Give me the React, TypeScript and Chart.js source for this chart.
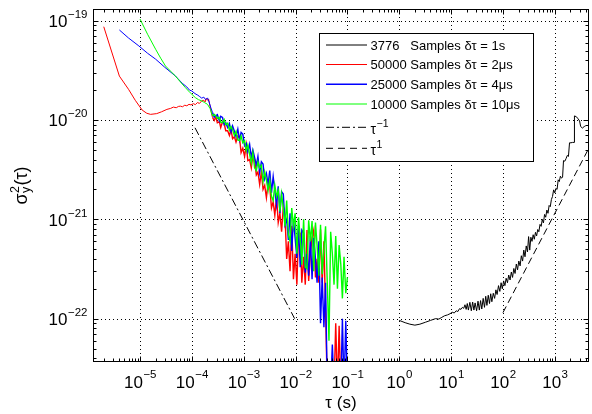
import React, { useEffect, useRef } from "react";
import { Chart, registerables } from "chart.js";

Chart.register(...registerables);

// ---------- axis ranges & ticks ----------
const X_MIN = 1.24e-6;
const X_MAX = 4560;
const Y_MIN = 3.66e-23;
const Y_MAX = 1.312e-19;

const xTickExponents = [-5, -4, -3, -2, -1, 0, 1, 2, 3];
const yTickExponents = [-19, -20, -21, -22];

const xAxisTitle = "τ (s)";
const seriesLabels = [
  "3776   Samples δτ = 1s",
  "50000 Samples δτ = 2μs",
  "25000 Samples δτ = 4μs",
  "10000 Samples δτ = 10μs",
];
const seriesColors = ["#000000", "#ff0000", "#0000ff", "#00ff00"];

// ---------- data ----------
const blackSeries: [number, number][] = [
  [1.0, 9.6e-23], [1.3, 9.1e-23], [1.6, 8.8e-23], [2.0, 8.6e-23], [2.5, 8.8e-23], [3.2, 9.2e-23],
  [4.0, 9.6e-23], [5.0, 1.0e-22], [5.8, 9.9e-23], [6.6, 1.03e-22], [7.5, 1.07e-22], [8.5, 1.09e-22],
  [9.5, 1.12e-22], [10.5, 1.16e-22], [11.5, 1.14e-22], [12.5, 1.2e-22], [13.5, 1.18e-22], [14.5, 1.26e-22],
  [15.5, 1.24e-22], [16.5, 1.3e-22], [17.5, 1.27e-22], [18.5, 1.38e-22], [19.5, 1.24e-22], [20.5, 1.42e-22],
  [21.5, 1.22e-22], [23, 1.46e-22], [24.5, 1.2e-22], [26, 1.47e-22], [27.5, 1.22e-22], [29, 1.44e-22],
  [31, 1.2e-22], [33, 1.5e-22], [35, 1.22e-22], [37, 1.52e-22], [39, 1.25e-22], [41.5, 1.6e-22],
  [44, 1.3e-22], [46.5, 1.68e-22], [49, 1.36e-22], [52, 1.72e-22], [55, 1.42e-22], [58, 1.78e-22],
  [61, 1.48e-22], [65, 1.8e-22], [69, 1.6e-22], [73, 1.95e-22], [77, 1.75e-22], [82, 2.15e-22],
  [87, 1.88e-22], [92, 2.3e-22], [97, 2.0e-22], [103, 2.4e-22], [109, 2.15e-22], [115, 2.55e-22],
  [122, 2.3e-22], [129, 2.75e-22], [137, 2.45e-22], [145, 2.95e-22], [153, 2.6e-22], [162, 3.2e-22],
  [171, 2.85e-22], [181, 3.55e-22], [191, 3.1e-22], [202, 3.8e-22], [214, 3.4e-22], [226, 4.3e-22],
  [239, 3.8e-22], [252, 4.9e-22], [266, 4.2e-22], [281, 5.4e-22], [297, 4.7e-22], [312, 6.7e-22],
  [328, 4.9e-22], [345, 6.6e-22], [363, 6.0e-22], [382, 7.0e-22], [402, 6.3e-22], [423, 7.4e-22],
  [445, 6.8e-22], [468, 7.9e-22], [492, 7.5e-22], [518, 8.9e-22], [545, 8.5e-22], [573, 1.0e-21],
  [603, 9.2e-22], [634, 1.12e-21], [667, 1.05e-21], [702, 1.24e-21], [738, 1.15e-21], [776, 1.38e-21],
  [816, 1.34e-21], [858, 1.58e-21], [902, 1.7e-21], [948, 1.98e-21], [997, 1.85e-21], [1050, 2.05e-21],
  [1105, 2.0e-21], [1160, 2.5e-21], [1220, 2.4e-21], [1280, 2.72e-21], [1345, 2.6e-21], [1410, 2.65e-21],
  [1470, 3.9e-21], [1560, 3.85e-21], [1650, 4.1e-21], [1740, 4.4e-21], [1830, 4.3e-21], [1920, 5.9e-21],
  [2050, 5.9e-21], [2200, 5.95e-21], [2380, 5.95e-21], [2390, 1.1e-20], [2600, 1.08e-20], [2800, 1.03e-20],
  [3000, 9.8e-21], [3150, 8.6e-21], [3400, 8.3e-21], [3700, 8.6e-21], [3900, 8.7e-21],
];

const redHead: [number, number][] = [
  [2.0e-6, 8.7e-20], [4.0e-6, 2.77e-20], [6.0e-6, 2.04e-20], [8.1e-6, 1.58e-20], [1.1e-5, 1.26e-20],
  [1.35e-5, 1.17e-20], [1.6e-5, 1.14e-20], [2.1e-5, 1.16e-20], [2.6e-5, 1.21e-20], [3.3e-5, 1.28e-20],
  [3.9e-5, 1.31e-20], [4.4e-5, 1.35e-20], [5.0e-5, 1.33e-20], [5.5e-5, 1.37e-20], [6.0e-5, 1.38e-20],
  [6.6e-5, 1.36e-20], [7.3e-5, 1.41e-20], [8.0e-5, 1.39e-20], [8.8e-5, 1.44e-20], [9.6e-5, 1.42e-20],
  [1.07e-4, 1.46e-20], [1.17e-4, 1.43e-20], [1.28e-4, 1.5e-20], [1.4e-4, 1.47e-20], [1.55e-4, 1.56e-20],
  [1.7e-4, 1.58e-20], [1.8e-4, 1.52e-20], [1.9e-4, 1.65e-20], [2.0e-4, 1.58e-20], [2.1e-4, 1.63e-20],
  [2.2e-4, 1.45e-20], [2.35e-4, 1.22e-20],
];

const blueHead: [number, number][] = [
  [4.0e-6, 8.07e-20], [6.0e-6, 6.7e-20], [9.5e-6, 5.57e-20], [1.4e-5, 4.7e-20], [2.0e-5, 4.1e-20],
  [3.0e-5, 3.4e-20], [4.8e-5, 2.78e-20], [6.5e-5, 2.35e-20], [8.0e-5, 2.15e-20], [9.0e-5, 2.0e-20],
  [1.0e-4, 1.96e-20], [1.1e-4, 1.88e-20], [1.2e-4, 1.82e-20], [1.3e-4, 1.78e-20], [1.42e-4, 1.72e-20],
  [1.55e-4, 1.66e-20], [1.7e-4, 1.7e-20], [1.85e-4, 1.6e-20], [2.0e-4, 1.67e-20], [2.15e-4, 1.52e-20],
  [2.3e-4, 1.35e-20],
];

const greenHead: [number, number][] = [
  [1.0e-5, 1.04e-19], [1.4e-5, 7.3e-20], [2.0e-5, 5.16e-20], [2.5e-5, 4.2e-20], [3.1e-5, 3.5e-20],
  [3.9e-5, 3.1e-20], [4.8e-5, 2.78e-20], [6.0e-5, 2.42e-20], [7.5e-5, 2.12e-20], [9.3e-5, 1.88e-20],
  [1.17e-4, 1.68e-20], [1.35e-4, 1.6e-20], [1.55e-4, 1.56e-20], [1.75e-4, 1.5e-20], [2.0e-4, 1.44e-20],
  [2.25e-4, 1.3e-20],
];

// common τ grid of the noisy parts (s)
const noiseTau = [
  2.5e-4, 2.7e-4, 2.9e-4, 3.1e-4, 3.4e-4, 3.6e-4, 3.9e-4, 4.2e-4, 4.5e-4, 4.9e-4,
  5.3e-4, 5.7e-4, 6.1e-4, 6.6e-4, 7.1e-4, 7.7e-4, 8.3e-4, 8.9e-4, 9.6e-4, 1.04e-3,
  1.12e-3, 1.2e-3, 1.3e-3, 1.4e-3, 1.5e-3, 1.62e-3, 1.75e-3, 1.88e-3, 2.03e-3, 2.19e-3,
  2.36e-3, 2.54e-3, 2.74e-3, 2.95e-3, 3.18e-3, 3.43e-3, 3.7e-3, 3.98e-3, 4.3e-3, 4.63e-3,
  4.99e-3, 5.38e-3, 5.8e-3, 6.25e-3, 6.74e-3, 7.26e-3, 7.83e-3, 8.44e-3, 9.1e-3, 9.8e-3,
  1.06e-2, 1.14e-2, 1.23e-2, 1.32e-2, 1.43e-2, 1.54e-2, 1.66e-2, 1.79e-2, 1.93e-2, 2.08e-2,
  2.24e-2, 2.42e-2, 2.6e-2, 2.81e-2, 3.03e-2, 3.26e-2, 3.52e-2, 3.79e-2, 4.09e-2, 4.41e-2,
  4.75e-2, 5.12e-2, 5.52e-2, 5.95e-2, 6.42e-2, 6.92e-2, 7.46e-2, 8.0e-2, 8.6e-2, 9.3e-2,
  1.0e-1,
];

const redNoise = [
  106e-22, 99e-22, 108e-22, 94e-22, 96e-22, 84e-22, 96e-22, 92e-22, 78e-22, 78e-22,
  70e-22, 80e-22, 65e-22, 68e-22, 60e-22, 69e-22, 66e-22, 47e-22, 52e-22, 43e-22,
  56e-22, 39e-22, 40e-22, 33e-22, 44e-22, 40e-22, 28e-22, 30e-22, 22.5e-22, 30e-22,
  20e-22, 22e-22, 16.5e-22, 23e-22, 21.5e-22, 13e-22, 15e-22, 11e-22, 17e-22, 9.3e-22,
  11.5e-22, 7.5e-22, 13.5e-22, 11e-22, 4.0e-22, 6.0e-22, 3.0e-22, 8.6e-22, 2.5e-22, 4.5e-22,
  2.2e-22, 7.6e-22, 7.2e-22, 2.3e-22, 4.2e-22, 2.2e-22, 7.8e-22, 2.4e-22, 4.4e-22, 6.6e-22,
  7.8e-22, 2.6e-22, 4.0e-22, 2.3e-22, 7.9e-22, 2.3e-22, 6.0e-22, 1.2e-22, 0.2e-22, 0.2e-22,
  0.3e-22, 0.2e-22, 0.2e-22, 0.9e-22, 0.2e-22, 0.85e-22, 0.2e-22,
];

const blueNoise = [
  119e-22, 107e-22, 110e-22, 113e-22, 98e-22, 109e-22, 106e-22, 90e-22, 94e-22, 84e-22,
  92e-22, 76e-22, 87e-22, 77e-22, 68e-22, 81e-22, 63e-22, 75e-22, 72e-22, 55e-22,
  58e-22, 48e-22, 57e-22, 42e-22, 50e-22, 42e-22, 35e-22, 43e-22, 29.5e-22, 38e-22,
  36e-22, 25.5e-22, 29e-22, 22.5e-22, 31e-22, 18.5e-22, 27e-22, 19.5e-22, 14e-22, 21.5e-22,
  11.5e-22, 19e-22, 18e-22, 8.8e-22, 10e-22, 6.2e-22, 11.5e-22, 4.8e-22, 10e-22, 6.5e-22,
  4.1e-22, 8.6e-22, 3.3e-22, 7.8e-22, 7.3e-22, 2.9e-22, 4.5e-22, 2.7e-22, 6.8e-22, 2.5e-22,
  6.5e-22, 4.0e-22, 2.3e-22, 6.0e-22, 0.9e-22, 2.6e-22, 0.82e-22, 2.3e-22, 0.2e-22, 0.2e-22,
  0.2e-22, 0.55e-22, 0.2e-22, 0.2e-22, 0.2e-22, 0.2e-22, 0.2e-22, 1.0e-22, 0.2e-22, 0.95e-22,
  0.2e-22,
];

const greenNoise = [
  110e-22, 114e-22, 110e-22, 104e-22, 106e-22, 95e-22, 94e-22, 101e-22, 90e-22, 93e-22,
  79e-22, 86e-22, 80e-22, 70e-22, 77e-22, 63e-22, 62e-22, 69e-22, 59e-22, 62e-22,
  49e-22, 56e-22, 45e-22, 37e-22, 47e-22, 33e-22, 31e-22, 38e-22, 33e-22, 35e-22,
  24e-22, 30e-22, 25e-22, 19.5e-22, 25e-22, 17e-22, 15.5e-22, 22e-22, 17e-22, 19.5e-22,
  12e-22, 18e-22, 13e-22, 8.5e-22, 15.5e-22, 7.0e-22, 6.0e-22, 13e-22, 8.5e-22, 11.5e-22,
  4.5e-22, 10.5e-22, 6.5e-22, 3.5e-22, 10e-22, 3.3e-22, 3.2e-22, 9.8e-22, 6.0e-22, 9.6e-22,
  3.0e-22, 9.3e-22, 5.5e-22, 2.7e-22, 8.8e-22, 2.8e-22, 5.0e-22, 8.5e-22, 2.3e-22, 0.6e-22,
  7.5e-22, 4.5e-22, 2.2e-22, 6.8e-22, 2.0e-22, 5.5e-22, 3.5e-22, 1.6e-22, 4.2e-22, 1.8e-22,
  2.6e-22,
];

const tauMinusOneLine: [number, number][] = [[1.15e-4, 8.35e-21], [9.6e-3, 1.0e-22]];
const tauPlusOneLine: [number, number][] = [[100, 1.15e-22], [4560, 5.24e-21]];

// ---------- helpers ----------
const FONT = '"Liberation Sans", Arial, Helvetica, sans-serif';

const toPoints = (pairs: [number, number][]) => pairs.map(([x, y]) => ({ x, y }));
const withNoise = (head: [number, number][], ys: number[]) => [
  ...toPoints(head),
  ...ys.map((y, i) => ({ x: noiseTau[i], y })),
];
const supText = (e: number) => (e < 0 ? "\u2212" + Math.abs(e) : String(e));

const matlabAxes = {
  id: "matlabAxes",
  beforeDatasetsDraw(chart: any) {
    const { ctx, chartArea: a, scales } = chart;
    const xs = scales.x;
    const ys = scales.y;
    ctx.save();
    ctx.strokeStyle = "#000";
    ctx.lineWidth = 1;
    ctx.setLineDash([1, 3]);
    xTickExponents.forEach((e) => {
      const px = Math.round(xs.getPixelForValue(10 ** e)) + 0.5;
      ctx.beginPath();
      ctx.moveTo(px, a.top);
      ctx.lineTo(px, a.bottom);
      ctx.stroke();
    });
    yTickExponents.forEach((e) => {
      const py = Math.round(ys.getPixelForValue(10 ** e)) + 0.5;
      ctx.beginPath();
      ctx.moveTo(a.left, py);
      ctx.lineTo(a.right, py);
      ctx.stroke();
    });
    ctx.restore();
  },
  afterDatasetsDraw(chart: any) {
    const { ctx, chartArea: a, scales } = chart;
    const xs = scales.x;
    const ys = scales.y;
    ctx.save();
    ctx.setLineDash([]);
    ctx.strokeStyle = "#000";
    ctx.lineWidth = 1;
    const L = Math.round(a.left) + 0.5;
    const R = Math.round(a.right) - 0.5;
    const T = Math.round(a.top) + 0.5;
    const B = Math.round(a.bottom) - 0.5;
    ctx.strokeRect(L, T, R - L, B - T);

    // inward ticks
    ctx.beginPath();
    for (let d = -7; d <= 4; d++) {
      for (let m = 1; m <= 9; m++) {
        const v = m * 10 ** d;
        if (v >= X_MIN && v <= X_MAX) {
          const px = Math.round(xs.getPixelForValue(v)) + 0.5;
          const len = m === 1 ? 5 : 3;
          ctx.moveTo(px, B);
          ctx.lineTo(px, B - len);
          ctx.moveTo(px, T);
          ctx.lineTo(px, T + len);
        }
      }
    }
    for (let d = -24; d <= -18; d++) {
      for (let m = 1; m <= 9; m++) {
        const v = m * 10 ** d;
        if (v >= Y_MIN && v <= Y_MAX) {
          const py = Math.round(ys.getPixelForValue(v)) + 0.5;
          const len = m === 1 ? 5 : 3;
          ctx.moveTo(L, py);
          ctx.lineTo(L + len, py);
          ctx.moveTo(R, py);
          ctx.lineTo(R - len, py);
        }
      }
    }
    ctx.stroke();

    // tick labels
    ctx.fillStyle = "#000";
    ctx.textAlign = "left";
    ctx.textBaseline = "alphabetic";
    const baseFont = `17px ${FONT}`;
    const expFont = `11.5px ${FONT}`;
    xTickExponents.forEach((e) => {
      const cx = xs.getPixelForValue(10 ** e);
      ctx.font = baseFont;
      const wb = ctx.measureText("10").width;
      ctx.font = expFont;
      const s = supText(e);
      const we = ctx.measureText(s).width;
      const x0 = cx - (wb + we) / 2;
      ctx.font = baseFont;
      ctx.fillText("10", x0, a.bottom + 26);
      ctx.font = expFont;
      ctx.fillText(s, x0 + wb + 0.5, a.bottom + 16);
    });
    yTickExponents.forEach((e) => {
      const cy = ys.getPixelForValue(10 ** e);
      ctx.font = expFont;
      const s = supText(e);
      const we = ctx.measureText(s).width;
      ctx.font = baseFont;
      const wb = ctx.measureText("10").width;
      const right = a.left - 5.5;
      ctx.fillText("10", right - we - 0.5 - wb, cy + 6.3);
      ctx.font = expFont;
      ctx.fillText(s, right - we, cy - 2.6);
    });

    // x-axis title
    ctx.font = `17px ${FONT}`;
    ctx.textAlign = "center";
    ctx.fillText(xAxisTitle, (a.left + a.right) / 2, a.bottom + 46);

    // y-axis title σ²_y(τ)
    ctx.save();
    ctx.translate(26.5, (a.top + a.bottom) / 2);
    ctx.rotate(-Math.PI / 2);
    ctx.textAlign = "left";
    const big = `18px ${FONT}`;
    const small = `12.5px ${FONT}`;
    ctx.font = big;
    const wSig = ctx.measureText("σ").width;
    const wPar = ctx.measureText("(τ)").width;
    ctx.font = small;
    const wSub = Math.max(ctx.measureText("2").width, ctx.measureText("y").width);
    const total = wSig + wSub + 1 + wPar;
    let x = -total / 2;
    ctx.font = big;
    ctx.fillText("σ", x, 0);
    x += wSig + 0.5;
    ctx.font = small;
    ctx.fillText("2", x, -8);
    ctx.fillText("y", x, 3);
    x += wSub + 0.5;
    ctx.font = big;
    ctx.fillText("(τ)", x, 0);
    ctx.restore();

    // legend box
    const bx = 319.5, by = 33.5, bw = 214, bh = 128;
    ctx.fillStyle = "#fff";
    ctx.fillRect(bx, by, bw, bh);
    ctx.strokeStyle = "#000";
    ctx.lineWidth = 1;
    ctx.strokeRect(bx, by, bw, bh);
    const rows = [45, 64.5, 84.3, 104, 127.3, 148.3];
    const lx0 = 326, lx1 = 367, tx = 370.5;
    ctx.font = `13px ${FONT}`;
    ctx.fillStyle = "#000";
    ctx.textAlign = "left";
    seriesLabels.forEach((lab, i) => {
      ctx.strokeStyle = seriesColors[i];
      ctx.lineWidth = i === 2 ? 1.5 : 1;
      ctx.setLineDash([]);
      ctx.beginPath();
      ctx.moveTo(lx0, rows[i]);
      ctx.lineTo(lx1, rows[i]);
      ctx.stroke();
      ctx.fillText(lab, tx, rows[i] + 4.5);
    });
    const dashRows: [number, number[], number][] = [[4, [8, 3, 2, 3], -1], [5, [7, 5], 1]];
    dashRows.forEach(([ri, dash, e]) => {
      ctx.strokeStyle = "#000";
      ctx.lineWidth = 1;
      ctx.setLineDash(dash);
      ctx.beginPath();
      ctx.moveTo(lx0, rows[ri]);
      ctx.lineTo(lx1, rows[ri]);
      ctx.stroke();
      ctx.setLineDash([]);
      ctx.font = `14px ${FONT}`;
      ctx.fillText("τ", tx, rows[ri] + 7);
      const wt = ctx.measureText("τ").width;
      ctx.font = `10.5px ${FONT}`;
      ctx.fillText(supText(e), tx + wt + 0.5, rows[ri] - 0.5);
    });
    ctx.restore();
  },
};

export default function App() {
  const ref = useRef<HTMLCanvasElement | null>(null);
  useEffect(() => {
    if (!ref.current) return;
    const noisyFrom = noiseTau[0] * 0.99;
    const line = (data: any[], color: string, order: number, dash: number[] = [], noisy = false) => ({
      data,
      showLine: true,
      borderColor: color,
      backgroundColor: color,
      borderWidth: 1,
      borderDash: dash,
      pointRadius: 0,
      fill: false,
      tension: 0,
      order,
      segment: noisy
        ? { borderWidth: (c: any) => (c.p0.parsed.x >= noisyFrom ? 1.4 : 1) }
        : undefined,
    });
    const chart = new Chart(ref.current, {
      type: "scatter",
      data: {
        datasets: [
          line(toPoints(blackSeries), seriesColors[0], 0),
          line(toPoints(tauMinusOneLine), "#000", 0, [8, 3, 2, 3]),
          line(toPoints(tauPlusOneLine), "#000", 0, [7, 4]),
          line(withNoise(greenHead, greenNoise), seriesColors[3], 1, [], true),
          line(withNoise(blueHead, blueNoise), seriesColors[2], 2, [], true),
          line(withNoise(redHead, redNoise), seriesColors[1], 3, [], true),
        ],
      },
      options: {
        animation: false,
        responsive: true,
        maintainAspectRatio: false,
        layout: { padding: { left: 93, right: 3, top: 9, bottom: 52 } },
        plugins: { legend: { display: false }, tooltip: { enabled: false } },
        scales: {
          x: { type: "logarithmic", min: X_MIN, max: X_MAX, display: false },
          y: { type: "logarithmic", min: Y_MIN, max: Y_MAX, display: false },
        },
      },
      plugins: [matlabAxes],
    } as any);
    return () => chart.destroy();
  }, []);
  return (
    <div style={{ position: "fixed", left: 0, top: 0, width: 592, height: 414, background: "#fff" }}>
      <canvas ref={ref} />
    </div>
  );
}
